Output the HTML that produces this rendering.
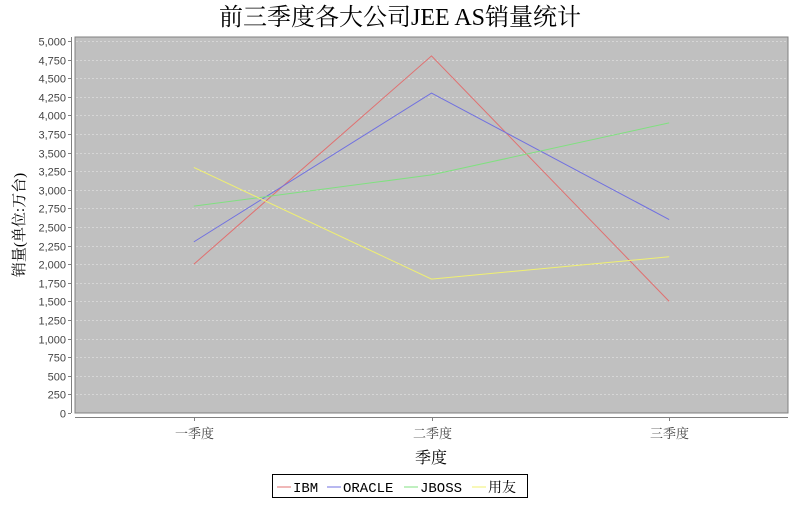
<!DOCTYPE html>
<html><head><meta charset="utf-8"><style>
body{margin:0;background:#fff;}
svg text{font-family:"Liberation Sans","Noto Sans CJK SC",sans-serif;}
.serif{font-family:"Liberation Serif","Noto Serif CJK SC",serif !important;}
.mono{font-family:"Liberation Mono","Noto Serif CJK SC",monospace !important;}
</style></head><body>
<svg id="chart" width="800" height="500" xmlns="http://www.w3.org/2000/svg">
<rect width="800" height="500" fill="#fff"/>
<text x="400" y="25" text-anchor="middle" font-size="24" class="serif">前三季度各大公司JEE AS销量统计</text>
<rect x="75" y="37" width="713" height="376" fill="#c0c0c0" stroke="#808080"/>
<g id="grid"></g>
<g id="yaxis"></g>
<g id="xaxis"></g>
<g id="series"></g>
<text transform="translate(24,225) rotate(-90)" text-anchor="middle" font-size="15" class="serif">销量(单位:万台)</text>
<text x="431" y="463" text-anchor="middle" font-size="16" class="serif">季度</text>
<g>
<rect x="272.5" y="474.5" width="255" height="23" fill="#fff" stroke="#000"/>
<g id="legend"></g>
</g>
</svg>
<script>
const categories=["一季度","二季度","三季度"];
const seriesNames=["IBM","ORACLE","JBOSS","用友"];
const ibmValues=[2000,4800,1500];
const oracleValues=[2300,4300,2600];
const jbossValues=[2780,3200,3900];
const yongyouValues=[3300,1800,2100];
const yTicks=[0,250,500,750,1000,1250,1500,1750,2000,2250,2500,2750,3000,3250,3500,3750,4000,4250,4500,4750,5000];
const colors=["#e07070","#7070e0","#80e080","#f0f070"];
const allSeries=[ibmValues,oracleValues,jbossValues,yongyouValues];
const NS="http://www.w3.org/2000/svg";
function y(v){return 413-v*(372/5000);}
function x(i){return 75+713*(i+0.5)/categories.length;}
function mk(t,a,p){const e=document.createElementNS(NS,t);for(const k in a)e.setAttribute(k,a[k]);p.appendChild(e);return e;}
const grid=document.getElementById('grid'),ya=document.getElementById('yaxis'),xa=document.getElementById('xaxis'),sg=document.getElementById('series'),lg=document.getElementById('legend');
mk('line',{x1:71.5,y1:37,x2:71.5,y2:413,stroke:'#808080'},ya);
yTicks.forEach(t=>{
  const yy=Math.round(y(t))+0.5;
  if(t>0){const g=mk('line',{x1:76,y1:yy,x2:787,y2:yy,stroke:'#ececec','stroke-dasharray':'2,2','stroke-width':0.6},grid);
  }
  mk('line',{x1:68,y1:yy,x2:71,y2:yy,stroke:'#808080'},ya);
  const tx=mk('text',{x:66,y:yy+4,'text-anchor':'end','font-size':11,fill:'#444'},ya);
  tx.textContent=t.toLocaleString('en-US');
  
  
});
mk('line',{x1:75,y1:417.5,x2:788,y2:417.5,stroke:'#808080'},xa);
categories.forEach((c,i)=>{
  const xx=Math.round(x(i))+0.5;
  mk('line',{x1:xx,y1:417,x2:xx,y2:421,stroke:'#808080'},xa);
  const tx=mk('text',{x:xx,y:438,'text-anchor':'middle','font-size':13,fill:'#444',class:'serif'},xa);
  tx.textContent=c;
  
  
});
allSeries.forEach((vals,s)=>{
  const pts=vals.map((v,i)=>x(i)+','+y(v)).join(' ');
  const pl=mk('polyline',{points:pts,fill:'none',stroke:colors[s],'stroke-width':1},sg);
  
  
});
const lx=[277,327,404,472];
seriesNames.forEach((n,s)=>{
  mk('line',{x1:lx[s],y1:487,x2:lx[s]+14,y2:487,stroke:colors[s]},lg);
  const tx=mk('text',{x:lx[s]+16,y:492,'font-size':14,class:'mono'},lg);
  tx.textContent=n;
  
  
});
</script>
</body></html>
